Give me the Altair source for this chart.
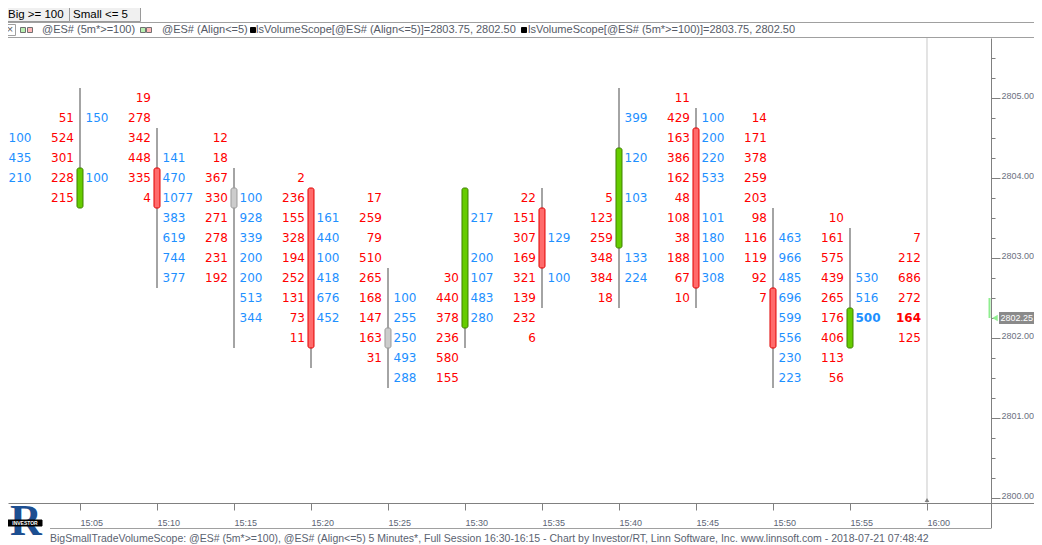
import altair as alt
import pandas as pd

# ---------------- data ----------------
# 5-minute bars, minutes after 15:00
bar_minutes = [0, 5, 10, 15, 20, 25, 30, 35, 40, 45, 50, 55]
bar_open = [2804.75, 2803.75, 2804.00, 2803.75, 2803.75, 2802.00, 2802.25, 2803.50, 2803.25, 2804.50, 2802.50, 2802.00]
bar_high = [2804.75, 2805.00, 2804.50, 2804.00, 2803.75, 2802.75, 2803.75, 2803.75, 2805.00, 2804.75, 2803.50, 2803.25]
bar_low = [2803.75, 2803.75, 2802.75, 2802.00, 2801.75, 2801.50, 2802.00, 2802.50, 2802.50, 2802.50, 2801.50, 2802.00]
bar_close = [2803.75, 2804.00, 2803.75, 2803.75, 2802.00, 2802.00, 2803.75, 2803.00, 2804.25, 2802.75, 2802.00, 2802.25]

# big trades (>= 100), drawn right of each bar; top price of each column, then one value per 0.25 step
big_top = [2804.50, 2804.75, 2804.25, 2803.75, 2803.50, 2802.50, 2803.50, 2803.25, 2804.75, 2804.75, 2803.25, 2802.75]
big_values = [
    [100, 435, 210],
    [150, None, None, 100],
    [141, 470, 1077, 383, 619, 744, 377],
    [100, 928, 339, 200, 200, 513, 344],
    [161, 440, 100, 418, 676, 452],
    [100, 255, 250, 493, 288],
    [217, None, 200, 107, 483, 280],
    [129, None, 100],
    [399, None, 120, None, 103, None, None, 133, 224],
    [100, 200, 220, 533, None, 101, 180, 100, 308],
    [463, 966, 485, 696, 599, 556, 230, 223],
    [530, 516, 500],
]

# small trades (<= 5), drawn left of the slot given in small_minutes
small_minutes = [5, 10, 15, 20, 25, 30, 35, 40, 45, 50, 55, 60]
small_top = [2804.75, 2805.00, 2804.50, 2804.00, 2803.75, 2802.75, 2803.75, 2803.75, 2805.00, 2804.75, 2803.50, 2803.25]
small_values = [
    [51, 524, 301, 228, 215],
    [19, 278, 342, 448, 335, 4],
    [12, 18, 367, 330, 271, 278, 231, 192],
    [2, 236, 155, 328, 194, 252, 131, 73, 11],
    [17, 259, 79, 510, 265, 168, 147, 163, 31],
    [30, 440, 378, 236, 580, 155],
    [22, 151, 307, 169, 321, 139, 232, 6],
    [5, 123, 259, 348, 384, 18],
    [11, 429, 163, 386, 162, 48, 108, 38, 188, 67, 10],
    [14, 171, 378, 259, 203, 98, 116, 119, 92, 7],
    [10, 161, 575, 439, 265, 176, 406, 113, 56],
    [7, 212, 686, 272, 164, 125],
]

last_price = 2802.25
session_end = 60
tick_size_price = 0.25

price_ticks = [2800.00, 2800.25, 2800.50, 2800.75, 2801.00, 2801.25, 2801.50, 2801.75,
               2802.00, 2802.25, 2802.50, 2802.75, 2803.00, 2803.25, 2803.50, 2803.75,
               2804.00, 2804.25, 2804.50, 2804.75, 2805.00, 2805.25, 2805.50]
time_ticks = [5, 10, 15, 20, 25, 30, 35, 40, 45, 50, 55, 60]
time_labels = ["15:05", "15:10", "15:15", "15:20", "15:25", "15:30", "15:35", "15:40",
               "15:45", "15:50", "15:55", "16:00"]

legend_texts = ["@ES# (5m*>=100)", "@ES# (Align<=5)",
                "lsVolumeScope[@ES# (Align<=5)]=2803.75, 2802.50",
                "lsVolumeScope[@ES# (5m*>=100)]=2803.75, 2802.50"]
footer_text = ("BigSmallTradeVolumeScope: @ES# (5m*>=100), @ES# (Align<=5) 5 Minutes*, Full Session "
               "16:30-16:15 - Chart by Investor/RT, Linn Software, Inc. www.linnsoft.com - 2018-07-21 07:48:42")

# ---------------- tables ----------------
half = tick_size_price / 2
candles = pd.DataFrame({"t": bar_minutes, "o": bar_open, "h": bar_high, "l": bar_low, "c": bar_close})
candles["dir"] = ["up" if c > o else ("down" if c < o else "flat") for o, c in zip(candles.o, candles.c)]
candles["btop"] = candles[["o", "c"]].max(axis=1) + half
candles["bbot"] = candles[["o", "c"]].min(axis=1) - half
candles["wtop"] = candles["h"] + half
candles["wbot"] = candles["l"] - half


def expand(minutes, tops, values, last_t):
    rows = []
    for t, top, vals in zip(minutes, tops, values):
        for i, v in enumerate(vals):
            if v is None:
                continue
            p = top - tick_size_price * i
            rows.append({"t": t, "price": p, "label": str(v),
                         "bold": bool(t == last_t and p == last_price)})
    return pd.DataFrame(rows)


big_df = expand(bar_minutes, big_top, big_values, bar_minutes[-1])
small_df = expand(small_minutes, small_top, small_values, small_minutes[-1])
marker_df = pd.DataFrame({"price": [last_price], "prev": [last_price + tick_size_price],
                          "label": [f"{last_price:.2f}"]})
session_df = pd.DataFrame({"t": [session_end]})
one = pd.DataFrame({"k": [0]})

# ---------------- scales / axes ----------------
W, H = 983, 465
RIGHT = 43          # keeps the whole svg inside the 1042px window (8px page margin each side)
xs = alt.Scale(domain=[0.3247, 64.156], nice=False, zero=False, padding=0)
ys = alt.Scale(domain=[2799.9375, 2805.75], nice=False, zero=False, padding=0)

label_array = "[" + ",".join(f"'{s}'" for s in time_labels) + "]"
x_axis = alt.Axis(orient="bottom", values=time_ticks, labelExpr=f"{label_array}[round(datum.value/5)-1]",
                  grid=False, domainColor="#808080", tickColor="#808080", tickSize=7,
                  labelAlign="left", labelBaseline="middle", labelPadding=12,
                  labelFont="Liberation Sans", labelFontSize=9, labelColor="#5b6475",
                  labelFlush=False, labelOverlap=False)
y_axis = alt.Axis(orient="right", values=price_ticks,
                  labelExpr="datum.value % 1 === 0 ? format(datum.value, '.2f') : ''",
                  grid=False, domainColor="#808080", tickColor="#808080",
                  tickSize={"condition": {"test": "datum.value % 1 === 0", "value": 9}, "value": 4},
                  labelAlign="left", labelBaseline="alphabetic", labelPadding=1,
                  labelFont="Liberation Sans", labelFontSize=9, labelColor="#6b7080",
                  labelFlush=False, labelOverlap=False)


def X(f):
    return alt.X(f, type="quantitative", scale=xs, axis=x_axis, title=None)


def Y(f):
    return alt.Y(f, type="quantitative", scale=ys, axis=y_axis, title=None)


# ---------------- marks ----------------
wicks = alt.Chart(candles).mark_rule(color="#a4a4a4", strokeWidth=2).encode(
    x=X("t"), y=Y("wtop"), y2="wbot")

bodies = alt.Chart(candles).mark_bar(size=6, cornerRadius=2, strokeWidth=1).encode(
    x=X("t"), y=Y("btop"), y2="bbot",
    fill=alt.Fill("dir:N", legend=None,
                  scale=alt.Scale(domain=["up", "down", "flat"], range=["#66cc00", "#ff6b6b", "#cccccc"])),
    stroke=alt.Stroke("dir:N", legend=None,
                      scale=alt.Scale(domain=["up", "down", "flat"], range=["#3f8000", "#e00000", "#9a9a9a"])))

num_font = "DejaVu Sans"
big_txt = alt.Chart(big_df).transform_filter("!datum.bold").mark_text(
    align="left", baseline="middle", dx=5.5, font=num_font, fontSize=12, color="#1e90ff").encode(
    x=X("t"), y=Y("price"), text="label:N")
big_bold = alt.Chart(big_df).transform_filter("datum.bold").mark_text(
    align="left", baseline="middle", dx=5.5, font=num_font, fontSize=12, fontWeight="bold",
    color="#1e90ff").encode(x=X("t"), y=Y("price"), text="label:N")
small_txt = alt.Chart(small_df).transform_filter("!datum.bold").mark_text(
    align="right", baseline="middle", dx=-6, font=num_font, fontSize=12, color="#ff0000").encode(
    x=X("t"), y=Y("price"), text="label:N")
small_bold = alt.Chart(small_df).transform_filter("datum.bold").mark_text(
    align="right", baseline="middle", dx=-6, font=num_font, fontSize=12, fontWeight="bold",
    color="#ff0000").encode(x=X("t"), y=Y("price"), text="label:N")

session_line = alt.Chart(session_df).mark_rule(color="#c8c8c8", strokeWidth=1).encode(
    x=X("t"), y=alt.value(0), y2=alt.value(H))
session_tri = alt.Chart(session_df).mark_point(shape="triangle-up", filled=True, size=22,
                                              color="#808080", opacity=1).encode(
    x=X("t"), y=alt.value(H - 3))

box_path = "M-1,-0.343L1,-0.343L1,0.343L-1,0.343Z"
price_box = alt.Chart(marker_df).mark_point(shape=box_path, filled=True, size=1225, color="#8a8a8a",
                                           opacity=1).encode(x=alt.value(1008.5), y=Y("price"))
price_txt = alt.Chart(marker_df).mark_text(align="left", baseline="middle", font="Liberation Sans",
                                          fontSize=9, color="white").encode(
    x=alt.value(992.5), y=Y("price"), text="label:N")
price_tri = alt.Chart(marker_df).mark_point(shape="triangle-left", filled=True, size=40,
                                           color="#90ee90", opacity=1).encode(x=alt.value(987), y=Y("price"))
price_tail = alt.Chart(marker_df).mark_rule(color="#90ee90", strokeWidth=2).encode(
    x=alt.value(981.5), y=Y("prev"), y2="price")


def label(text, x, y, size, color, align="left", font="Liberation Sans", weight="normal"):
    return alt.Chart(one).mark_text(text=text, align=align, baseline="middle", font=font,
                                    fontSize=size, color=color, fontWeight=weight).encode(
        x=alt.value(x), y=alt.value(y))


def box(x, x2, y, y2, fill, stroke="#808080"):
    return alt.Chart(one).mark_rect(fill=fill, stroke=stroke, strokeWidth=1).encode(
        x=alt.value(x), x2=alt.value(x2), y=alt.value(y), y2=alt.value(y2))


def hline(x, x2, y, color="#a0a0a0"):
    return alt.Chart(one).mark_rule(color=color, strokeWidth=1).encode(
        x=alt.value(x), x2=alt.value(x2), y=alt.value(y))


def vline(x, y, y2, color="#808080"):
    return alt.Chart(one).mark_rule(color=color, strokeWidth=1).encode(
        x=alt.value(x), y=alt.value(y), y2=alt.value(y2))


decor = [
    # toolbar buttons
    box(-8.5, 61.5, -38.5, -16.5, "#f0f0f0", "#9a9a9a"),
    box(61.5, 132.5, -38.5, -16.5, "#f0f0f0", "#9a9a9a"),
    label("Big >= 100", 0, -23, 11.5, "#000000"),
    label("Small <= 5", 65, -23, 11.5, "#000000"),
    hline(-8, W + RIGHT, -15.5, "#a0a0a0"),
    hline(-8, W + RIGHT, -0.5, "#a0a0a0"),
    # legend line
    box(-3.5, 7.5, -13.5, -2.5, "#ffffff", "#a0a0a0"),
    label("\u00d7", 2, -8, 11, "#606060", align="center"),
    box(12.5, 17.5, -10.5, -5.5, "#b8f0b0", "#707070"),
    box(19.5, 24.5, -10.5, -5.5, "#ffb8b8", "#707070"),
    label(legend_texts[0], 34, -8, 11, "#555a66"),
    box(132.5, 137.5, -10.5, -5.5, "#b8f0b0", "#707070"),
    box(138.5, 143.5, -10.5, -5.5, "#ffb8b8", "#707070"),
    label(legend_texts[1], 154, -8, 11, "#555a66"),
    box(242.5, 247.5, -10.5, -5.5, "#000000", "#000000"),
    label(legend_texts[2], 248, -8, 11, "#555a66"),
    box(513.5, 518.5, -10.5, -5.5, "#000000", "#000000"),
    label(legend_texts[3], 520, -8, 11, "#555a66"),
    # axis frame extensions
    hline(983, W + RIGHT, H + 0.5, "#808080"),
    vline(983.5, H, 490, "#808080"),
    hline(42, 983.5, 490.5, "#a0a0a0"),
    # footer
    label(footer_text, 42, 500.5, 10.5, "#5a6270"),
    # logo
    label("R", 18, 484, 44, "#1d4f91", align="center", font="Liberation Serif", weight="bold"),
    box(0, 34, 482, 488, "#000000", "#000000"),
    label("INVESTOR", 17, 485, 5, "#ffffff", align="center", weight="bold"),
]

chart = alt.layer(
    session_line, wicks, bodies, big_txt, big_bold, small_txt, small_bold, session_tri,
    price_tail, price_box, price_tri, price_txt, *decor
).properties(
    width=W, height=H,
    padding={"left": 0, "top": 30, "right": RIGHT, "bottom": 42},
    autosize=alt.AutoSizeParams(type="none"),
    background="white",
).configure_view(strokeWidth=0)

chart.save("out.html", embed_options={"renderer": "svg", "actions": False})
